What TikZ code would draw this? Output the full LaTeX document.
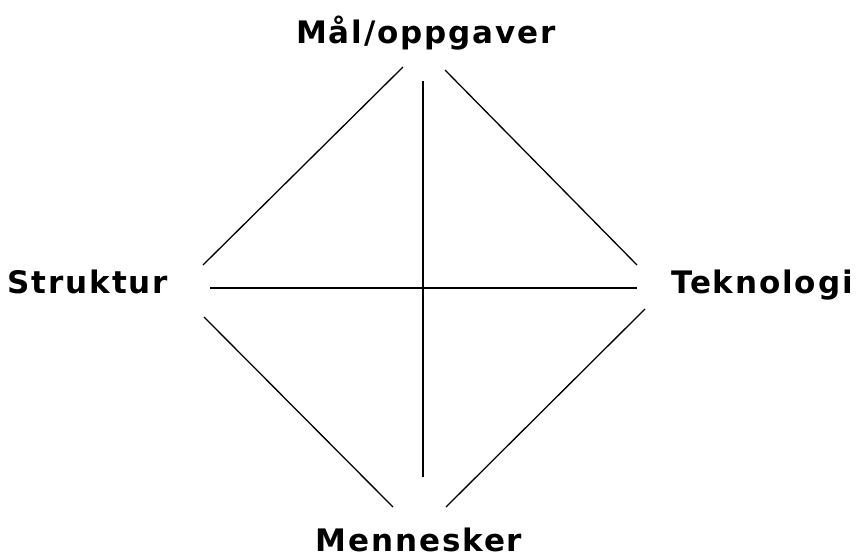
\documentclass[tikz,border=0pt]{standalone}
\usepackage{fontspec}
\newfontfamily\lblfont[LetterSpace=6]{DejaVu Sans Bold}
\begin{document}
\begin{tikzpicture}[x=1pt,y=-1pt,
  lbl/.style={font=\lblfont\fontsize{31}{33}\selectfont, inner sep=0pt, anchor=base},
  link/.style={line width=1.3pt, black}]
\useasboundingbox (0,0) rectangle (858,557);
\node[lbl] (mal) at (426,43) {Mål/oppgaver};
\node[lbl] (str) at (88,293) {Struktur};
\node[lbl] (tek) at (762,293) {Teknologi};
\node[lbl] (men) at (419,551) {Mennesker};
% connector ends
\coordinate (malL) at (403,67);
\coordinate (malC) at (423,81);
\coordinate (malR) at (445,70);
\coordinate (strT) at (203,265);
\coordinate (strC) at (210,288);
\coordinate (strB) at (204,317);
\coordinate (tekT) at (637,265);
\coordinate (tekC) at (637,288);
\coordinate (tekB) at (645,309);
\coordinate (menL) at (393,507);
\coordinate (menC) at (423,477);
\coordinate (menR) at (446,507);
\draw[link] (malL) -- (strT);
\draw[link] (malR) -- (tekT);
\draw[link] (malC) -- (menC);
\draw[link] (strC) -- (tekC);
\draw[link] (strB) -- (menL);
\draw[link] (tekB) -- (menR);
\end{tikzpicture}
\end{document}
